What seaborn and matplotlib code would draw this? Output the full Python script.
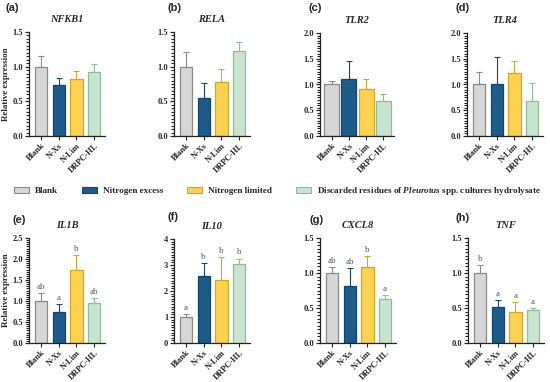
import matplotlib
matplotlib.use("Agg")
import matplotlib.pyplot as plt
import seaborn as sns
import numpy as np
import pandas as pd
from matplotlib.patches import Patch
from matplotlib.ticker import FixedLocator

#%% data
groups = ['Blank', 'N-Xs', 'N-Lim', 'DRPC-HL']
legend_names = ['Blank', 'Nitrogen excess', 'Nitrogen limited',
                'Discarded residues of $\\mathit{Pleurotus}$ spp. cultures hydrolysate']
fills = ['#d6d6d6', '#1d5b8a', '#fcd24e', '#c7e4cf']
edges = ['#8a8a8a', '#14466d', '#d2a62c', '#8dbd9b']

genes = ['NFKB1', 'RELA', 'TLR2', 'TLR4', 'IL1B', 'IL10', 'CXCL8', 'TNF']
panel_tags = ['(a)', '(b)', '(c)', '(d)', '(e)', '(f)', '(g)', '(h)']

means = {
    'NFKB1': [1.00, 0.73, 0.82, 0.92],
    'RELA':  [1.00, 0.55, 0.78, 1.23],
    'TLR2':  [1.00, 1.11, 0.92, 0.68],
    'TLR4':  [1.00, 1.01, 1.23, 0.68],
    'IL1B':  [1.00, 0.74, 1.74, 0.96],
    'IL10':  [1.00, 2.57, 2.43, 3.02],
    'CXCL8': [1.00, 0.82, 1.08, 0.63],
    'TNF':   [1.00, 0.52, 0.45, 0.47],
}
errs = {
    'NFKB1': [0.16, 0.10, 0.12, 0.12],
    'RELA':  [0.21, 0.21, 0.19, 0.13],
    'TLR2':  [0.07, 0.35, 0.18, 0.13],
    'TLR4':  [0.24, 0.53, 0.22, 0.34],
    'IL1B':  [0.18, 0.19, 0.36, 0.10],
    'IL10':  [0.13, 0.52, 0.86, 0.23],
    'CXCL8': [0.08, 0.25, 0.16, 0.06],
    'TNF':   [0.12, 0.09, 0.13, 0.03],
}
letters = {
    'IL1B':  ['ab', 'a', 'b', 'ab'],
    'IL10':  ['a', 'b', 'b', 'b'],
    'CXCL8': ['ab', 'ab', 'b', 'a'],
    'TNF':   ['b', 'a', 'a', 'a'],
}
ytop = {'NFKB1': 1.5, 'RELA': 1.5, 'TLR2': 2.0, 'TLR4': 2.0,
        'IL1B': 2.5, 'IL10': 4.0, 'CXCL8': 1.5, 'TNF': 1.5}
ystep = {'NFKB1': 0.5, 'RELA': 0.5, 'TLR2': 0.5, 'TLR4': 0.5,
         'IL1B': 0.5, 'IL10': 1.0, 'CXCL8': 0.5, 'TNF': 0.5}

#%% style
sns.set_theme(style="ticks")
plt.rcParams['font.family'] = ['Liberation Serif', 'DejaVu Serif']
plt.rcParams['mathtext.fontset'] = 'custom'
plt.rcParams['mathtext.it'] = 'Liberation Serif:italic:bold'
plt.rcParams['mathtext.rm'] = 'Liberation Serif:bold'
plt.rcParams['ytick.minor.visible'] = True
plt.rcParams['ytick.minor.size'] = 2.5
plt.rcParams['ytick.minor.width'] = 0.8

W, H = 550, 382
fig = plt.figure(figsize=(W / 100, H / 100), dpi=100)

# pixel boxes: left, top, width, bottom
boxes = [(29, 32, 76, 136), (174, 32, 76, 136), (320, 33, 74, 136), (467, 33, 76, 136),
         (29, 238, 76, 343), (174, 239, 76, 343), (320, 238, 76, 343), (468, 238, 76, 343)]
tag_pos = [(5, 8), (168, 8), (308, 8), (455, 8), (12, 220), (168, 217), (309, 220), (455, 218)]
bar_w = [0.7, 0.7, 0.88, 0.7, 0.7, 0.7, 0.7, 0.7]

for i, g in enumerate(genes):
    l, t, w, b = boxes[i]
    ax = fig.add_axes([l / W, 1 - b / H, w / W, (b - t) / H])
    df = pd.DataFrame({'group': groups, 'value': means[g]})
    sns.barplot(data=df, x='group', y='value', hue='group', palette=fills,
                saturation=1, legend=False, width=bar_w[i], ax=ax, zorder=2)
    for p, ec in zip(ax.patches, edges):
        p.set_edgecolor(ec)
        p.set_linewidth(0.9)
    for j in range(4):
        ax.errorbar(j, means[g][j], yerr=[[0], [errs[g][j]]], fmt='none',
                    ecolor=edges[j], elinewidth=0.8, capsize=2, capthick=0.8, zorder=1)
    if g in letters:
        for j in range(4):
            ax.annotate(letters[g][j], (j, means[g][j] + errs[g][j]),
                        xytext=(0, 1.5), textcoords='offset points',
                        ha='center', va='bottom', fontsize=6.5, color='#555555')
    ax.set_xlim(-0.68, 3.62)
    ax.set_ylim(0, ytop[g])
    ax.spines[['top', 'right']].set_visible(False)
    for s in ['left', 'bottom']:
        ax.spines[s].set_linewidth(0.9)
        ax.spines[s].set_color('#222222')
    major = np.arange(0, ytop[g] + 1e-6, ystep[g])
    minor = np.arange(0, ytop[g] + 1e-6, ystep[g] / 10)
    ax.set_yticks(major)
    fmt = "{:.0f}" if ystep[g] == 1.0 else "{:.1f}"
    ax.set_yticklabels([fmt.format(v) for v in major], fontweight='bold')
    ax.yaxis.set_minor_locator(FixedLocator(minor))
    ax.set_xticks(range(4))
    ax.set_xticklabels(groups, rotation=45, ha='right', rotation_mode='anchor',
                       fontweight='bold')
    ax.tick_params(axis='y', which='major', length=3.2, width=0.9, labelsize=6, pad=1,
                   color='#222222')
    ax.tick_params(axis='y', which='minor', length=2.5, width=0.8, color='#222222',
                   left=True)
    ax.tick_params(axis='x', which='major', length=3, width=0.8, labelsize=6, pad=1,
                   color='#222222')
    ax.set_xlabel('')
    if i in (0, 4):
        ax.set_ylabel('Relative expression', fontsize=6.5, fontweight='bold', labelpad=2)
    else:
        ax.set_ylabel('')
    ax.set_title(g, fontsize=7.5, fontweight='bold', style='italic', pad=7)
    tx, ty = tag_pos[i]
    fig.text(tx / W, 1 - ty / H, panel_tags[i], fontsize=8, fontweight='bold',
             family=['Liberation Sans', 'DejaVu Sans'], va='center', ha='left')

handles = [Patch(facecolor=f, edgecolor=e, linewidth=0.8) for f, e in zip(fills, edges)]
leg = fig.legend(handles, legend_names, loc='center', bbox_to_anchor=(0.505, 1 - 191 / H),
                 ncol=4, frameon=False, handlelength=1.6, handleheight=0.7,
                 columnspacing=2.6, handletextpad=0.7,
                 prop={'weight': 'bold', 'size': 6.6})

fig.savefig('out.png', dpi=100)
